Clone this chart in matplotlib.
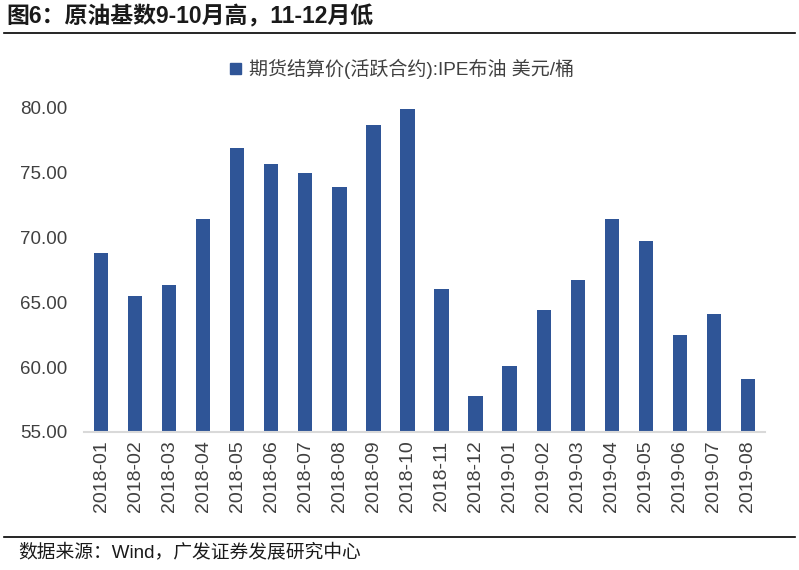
import matplotlib.pyplot as plt
from matplotlib.patches import Patch

plt.rcParams['font.family'] = ['Liberation Sans', 'Noto Sans CJK SC', 'DejaVu Sans']

# 月份与IPE布油结算价(美元/桶)
months = ['2018-01', '2018-02', '2018-03', '2018-04', '2018-05', '2018-06',
          '2018-07', '2018-08', '2018-09', '2018-10', '2018-11', '2018-12',
          '2019-01', '2019-02', '2019-03', '2019-04', '2019-05', '2019-06',
          '2019-07', '2019-08']
prices = [68.8, 65.5, 66.3, 71.4, 76.9, 75.7, 75.0, 73.9, 78.7, 79.9,
          66.0, 57.8, 60.1, 64.4, 66.7, 71.4, 69.7, 62.5, 64.1, 59.1]
yticks = [55, 60, 65, 70, 75, 80]

bar_color = '#2F5597'
text_color = '#404040'

fig = plt.figure(figsize=(7.99, 5.70), dpi=100)
ax = fig.add_axes([84 / 799, 1 - 432 / 570, (765 - 84) / 799, (432 - 100) / 570])

x = range(len(months))
ax.bar(x, [p - 55 for p in prices], bottom=55, width=0.42, color=bar_color)
ax.set_xlim(-0.5, len(months) - 0.5)
ax.set_ylim(55, 80.6)
ax.set_yticks(yticks)
ax.set_yticklabels([f'{v:.2f}' for v in yticks], fontsize=13.5, color=text_color)
ax.set_xticks(list(x))
ax.set_xticklabels(months, rotation=90, fontsize=14, color=text_color)
ax.tick_params(axis='both', length=0)
ax.tick_params(axis='y', pad=12)
ax.tick_params(axis='x', pad=6)
for s in ['top', 'right', 'left']:
    ax.spines[s].set_visible(False)
ax.spines['bottom'].set_color('#D9D9D9')
ax.spines['bottom'].set_linewidth(1.5)

fig.legend(handles=[Patch(color=bar_color, label='期货结算价(活跃合约):IPE布油 美元/桶')],
           loc='center', bbox_to_anchor=(402 / 799, 1 - 69 / 570), frameon=False,
           fontsize=13.7, handlelength=0.55, handleheight=0.55, handletextpad=0.4,
           labelcolor=text_color)

# 标题与来源
fig.text(6 / 799, 1 - 17 / 570, '图6：原油基数9-10月高，11-12月低', fontsize=16.5,
         fontweight='bold', color='#1a1a1a', va='center', ha='left')
fig.add_artist(plt.Line2D([0.005, 0.995], [1 - 33 / 570, 1 - 33 / 570], color='black', lw=1.2))
fig.add_artist(plt.Line2D([0.005, 0.995], [1 - 537 / 570, 1 - 537 / 570], color='black', lw=1.2))
fig.text(18 / 799, 1 - 552 / 570, '数据来源：Wind，广发证券发展研究中心', fontsize=13.5,
         color='#1a1a1a', va='center', ha='left')

fig.savefig('out.png', dpi=100)
